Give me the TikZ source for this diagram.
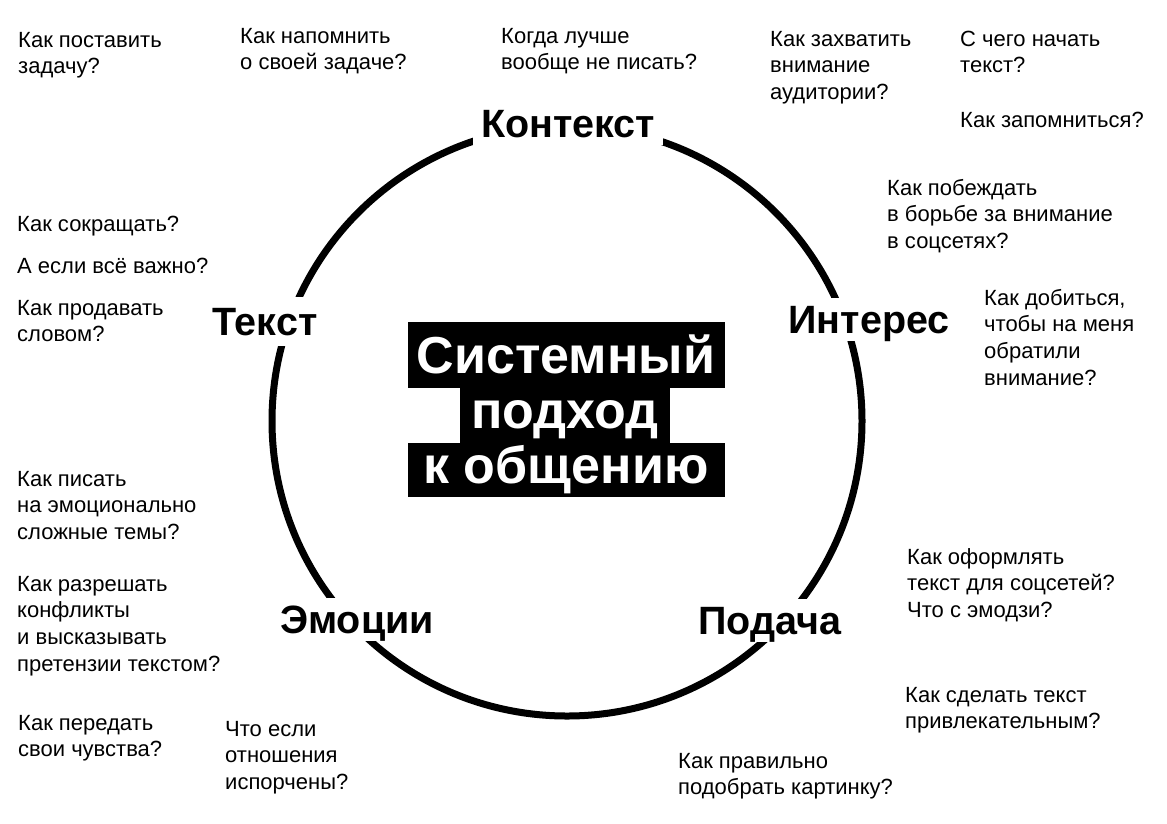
\documentclass[tikz,border=0pt]{standalone}
\usepackage{fontspec}
\setmainfont{Liberation Sans}
\usetikzlibrary{positioning}

\begin{document}
\begin{tikzpicture}[x=1pt, y=-1pt,
  question/.style={anchor=base west, align=left, inner sep=0pt, font=\fontsize{22}{26.7}\selectfont},
  stage/.style={anchor=base, fill=white, inner xsep=8pt, inner ysep=6pt, text height=29pt, text depth=2pt, font=\fontsize{39.5}{44}\selectfont\bfseries},
  core/.style={anchor=base, fill=black, text=white, inner sep=0pt, font=\fontsize{52}{55}\selectfont\bfseries}]
  \useasboundingbox (0,0) rectangle (1167,823);

  % the ring
  \coordinate (c) at (567,421);
  \draw[line width=7pt] (c) circle (295pt);

  % stages on the ring
  \node[stage] (ctx) at (568,137) {Контекст};
  \node[stage] (int) at (869,333) {Интерес};
  \node[stage] (pod) at (770,634) {Подача};
  \node[stage] (emo) at (357,633) {Эмоции};
  \node[stage, inner ysep=9pt] (txt) at (265,335) {Текст};

  % centre
  \node[core, minimum width=317pt, text height=51pt, text depth=15pt] (sys) at (566,373) {Системный};
  \node[core, minimum width=210pt, text height=40pt, text depth=15pt] (app) at (565,428) {подход};
  \node[core, minimum width=317pt, text height=40pt, text depth=14pt] (com) at (566,483) {к общению};

  % questions (placed by the baseline of their last line)
  \node[question] (q1) at (18,73.7) {Как поставить\\задачу?};
  \node[question] (q2) at (240,69.7) {Как напомнить\\о своей задаче?};
  \node[question] (q3) at (501,69.7) {Когда лучше\\вообще не писать?};
  \node[question] (q4) at (770,99.4) {Как захватить\\внимание\\аудитории?};
  \node[question] (q5) at (960,72.7) {С чего начать\\текст?};
  \node[question] (q6) at (960,127) {Как запомниться?};
  \node[question] (q7) at (887,248.4) {Как побеждать\\в борьбе за внимание\\в соцсетях?};
  \node[question] (q8) at (984,385.1) {Как добиться,\\чтобы на меня\\обратили\\внимание?};
  \node[question] (q9) at (17,231) {Как сокращать?};
  \node[question] (q10) at (17,273) {А если всё важно?};
  \node[question] (q11) at (17,341.7) {Как продавать\\словом?};
  \node[question] (q12) at (17,539.4) {Как писать\\на эмоционально\\сложные темы?};
  \node[question] (q13) at (17,671.1) {Как разрешать\\конфликты\\и высказывать\\претензии текстом?};
  \node[question] (q14) at (18,756.7) {Как передать\\свои чувства?};
  \node[question] (q15) at (225,789.4) {Что если\\отношения\\испорчены?};
  \node[question] (q16) at (678,794.7) {Как правильно\\подобрать картинку?};
  \node[question] (q17) at (907,617.4) {Как оформлять\\текст для соцсетей?\\Что с эмодзи?};
  \node[question] (q18) at (905,728.7) {Как сделать текст\\привлекательным?};
\end{tikzpicture}
\end{document}
